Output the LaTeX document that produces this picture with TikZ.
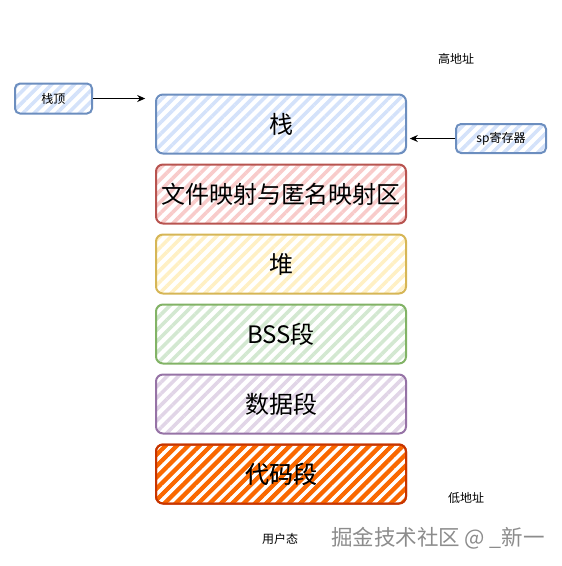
\documentclass[tikz,border=0pt]{standalone}
\usepackage{fontspec}
\setmainfont{Noto Sans CJK SC}
\usetikzlibrary{arrows.meta,patterns.meta,positioning}

\definecolor{blueline}{HTML}{6C8EBF}
\definecolor{bluefill}{HTML}{D4E2FA}
\definecolor{redline}{HTML}{B85450}
\definecolor{redfill}{HTML}{F8CBCA}
\definecolor{yellowline}{HTML}{D6B656}
\definecolor{yellowfill}{HTML}{FFF0C4}
\definecolor{greenline}{HTML}{82B366}
\definecolor{greenfill}{HTML}{D3E8D1}
\definecolor{purpleline}{HTML}{9673A6}
\definecolor{purplefill}{HTML}{E1D5E7}
\definecolor{orangeline}{HTML}{C73500}
\definecolor{orangefill}{HTML}{FA6800}

\begin{document}
\begin{tikzpicture}[x=1pt,y=-1pt,thick]
		\tikzset{segment/.style = {draw=#1line, line width=2pt, rounded corners=7pt,
				pattern={Lines[angle=45,distance=8pt,line width=3.6pt]}, pattern color=#1fill,
				minimum width=250pt, minimum height=59pt, inner sep=0pt,
				font=\fontsize{24}{27}\selectfont}}
		\tikzset{tag/.style = {segment=blue, minimum width=77pt, minimum height=30pt,
				rounded corners=5pt, font=\fontsize{12}{14}\selectfont}}
		\tikzset{note/.style = {font=\fontsize{12}{14}\selectfont}}
		\tikzset{pointer/.style = {draw, line width=1pt, -{Stealth[length=8pt,width=7pt]}}}
		
		\useasboundingbox (0,0) rectangle (562,566);
		
		% memory segments, top to bottom
		\foreach \n/\c/\t [count=\i from 0] in {stack/blue/栈, mmap/red/文件映射与匿名映射区,
				heap/yellow/堆, bss/green/BSS段, data/purple/数据段, text/orange/代码段}
			\node[segment=\c] (\n) at (281,124+70*\i) {\t};
		\node[segment=orange, pattern={Lines[angle=45,distance=8pt,line width=4.2pt]}] at (text) {代码段};
		
		% pointers
		\node[tag] (top) at (53.5,98.5) {栈顶};
		\node[tag, minimum width=90pt, minimum height=29pt] (sp) at (501,138.5) {sp寄存器};
		\draw[pointer, shorten >=9pt] (top) -- (top -| stack.west);
		\draw[pointer, shorten >=2pt] (sp) -- (sp -| stack.east);
		
		% labels
		\node[note] (high) at (456,59) {高地址};
		\node[note] (low) at (466,498) {低地址};
		\node[note] (user) at (280,539) {用户态};
		\node[font=\fontsize{21.5}{23}\selectfont, text=black!45] (mark) at (438,538) {掘金技术社区 @ \_新一};
		\end{tikzpicture}
\end{document}
